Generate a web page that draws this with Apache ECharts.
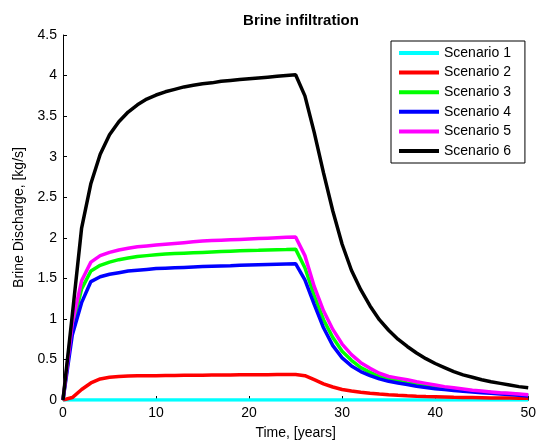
<!DOCTYPE html>
<html>
<head>
<meta charset="utf-8">
<script src="https://cdn.jsdelivr.net/npm/echarts@6/dist/echarts.min.js"></script>
<style>
  html, body { margin: 0; padding: 0; background: #fff; }
  #chart { width: 539px; height: 445px; }
</style>
</head>
<body>
<div id="chart"></div>
<script>
// Time in years, one sample per year
const years = [0,1,2,3,4,5,6,7,8,9,10,11,12,13,14,15,16,17,18,19,20,21,22,23,24,25,
               26,27,28,29,30,31,32,33,34,35,36,37,38,39,40,41,42,43,44,45,46,47,48,49,50];

const seriesNames = ['Scenario 1','Scenario 2','Scenario 3','Scenario 4','Scenario 5','Scenario 6'];
const seriesColors = ['#00ffff','#ff0000','#00ff00','#0000ff','#ff00ff','#000000'];

// Brine discharge [kg/s] per scenario
const scenario1 = [0,0,0,0,0,0,0,0,0,0,0,0,0,0,0,0,0,0,0,0,0,0,0,0,0,0,
                   0,0,0,0,0,0,0,0,0,0,0,0,0,0,0,0,0,0,0,0,0,0,0,0,0];
const scenario2 = [0,0.03,0.13,0.21,0.26,0.28,0.29,0.295,0.298,0.30,0.30,0.302,0.303,0.304,0.305,0.306,0.307,0.308,0.309,0.31,0.31,0.311,0.312,0.313,0.314,0.315,
                   0.30,0.25,0.20,0.16,0.13,0.11,0.095,0.083,0.073,0.065,0.058,0.052,0.047,0.043,0.04,0.037,0.034,0.032,0.03,0.028,0.026,0.025,0.024,0.023,0.022];
const scenario3 = [0,0.9,1.37,1.59,1.66,1.70,1.73,1.75,1.77,1.78,1.79,1.80,1.805,1.81,1.815,1.82,1.825,1.83,1.835,1.84,1.843,1.846,1.85,1.853,1.856,1.86,
                   1.63,1.29,0.99,0.77,0.60,0.49,0.40,0.34,0.29,0.26,0.235,0.21,0.19,0.175,0.16,0.145,0.132,0.12,0.11,0.10,0.091,0.083,0.076,0.069,0.06];
const scenario4 = [0,0.8,1.2,1.46,1.52,1.55,1.57,1.59,1.60,1.61,1.62,1.625,1.63,1.635,1.64,1.645,1.65,1.653,1.656,1.66,1.664,1.668,1.671,1.674,1.677,1.68,
                   1.48,1.18,0.89,0.67,0.52,0.42,0.35,0.30,0.26,0.23,0.21,0.19,0.17,0.155,0.14,0.128,0.117,0.107,0.098,0.09,0.082,0.075,0.068,0.06,0.05];
const scenario5 = [0,0.95,1.47,1.70,1.78,1.82,1.85,1.87,1.89,1.90,1.91,1.92,1.93,1.94,1.95,1.96,1.965,1.97,1.975,1.98,1.985,1.99,1.995,2.0,2.005,2.01,
                   1.78,1.40,1.10,0.87,0.69,0.56,0.46,0.39,0.33,0.29,0.27,0.25,0.225,0.205,0.185,0.165,0.15,0.135,0.12,0.11,0.10,0.09,0.082,0.074,0.065];
const scenario6 = [0,1.05,2.12,2.67,3.03,3.27,3.43,3.55,3.64,3.71,3.76,3.80,3.83,3.86,3.88,3.90,3.91,3.93,3.94,3.95,3.96,3.97,3.98,3.99,4.0,4.01,
                   3.75,3.30,2.80,2.33,1.92,1.60,1.36,1.16,0.99,0.86,0.75,0.66,0.58,0.51,0.45,0.40,0.35,0.31,0.28,0.25,0.225,0.205,0.185,0.165,0.15];

const allScenarios = [scenario1, scenario2, scenario3, scenario4, scenario5, scenario6];

const font = 'Liberation Sans, Arial, Helvetica, sans-serif';

const chart = echarts.init(document.getElementById('chart'), null, { renderer: 'canvas' });

chart.setOption({
  animation: false,
  backgroundColor: '#ffffff',
  title: {
    text: 'Brine infiltration',
    left: 296, top: 8, textAlign: 'center',
    textStyle: { fontFamily: font, fontSize: 15, fontWeight: 'bold', color: '#000' }
  },
  grid: { left: 63, right: 9, top: 35, bottom: 41, containLabel: false },
  legend: {
    orient: 'vertical',
    left: 391, top: 41,
    padding: [4, 14, 4, 8],
    itemWidth: 40, itemHeight: 4, itemGap: 3.6,
    icon: 'rect',
    backgroundColor: '#fff',
    borderColor: '#000', borderWidth: 1,
    textStyle: { fontFamily: font, fontSize: 14, color: '#000', lineHeight: 16 },
    data: seriesNames
  },
  xAxis: {
    type: 'value', min: 0, max: 50, interval: 10,
    name: 'Time, [years]', nameLocation: 'middle', nameGap: 26,
    nameTextStyle: { fontFamily: font, fontSize: 14, color: '#000' },
    axisLine: { show: true, lineStyle: { color: '#000', width: 1 } },
    axisTick: { show: true, inside: true, length: 4, lineStyle: { color: '#000' } },
    axisLabel: { fontFamily: font, fontSize: 14, color: '#000', margin: 6 },
    splitLine: { show: false }
  },
  yAxis: {
    type: 'value', min: 0, max: 4.5, interval: 0.5,
    name: 'Brine Discharge, [kg/s]', nameLocation: 'middle', nameGap: 31,
    nameTextStyle: { fontFamily: font, fontSize: 14, color: '#000' },
    axisLine: { show: true, lineStyle: { color: '#000', width: 1 } },
    axisTick: { show: true, inside: true, length: 4, lineStyle: { color: '#000' } },
    axisLabel: { fontFamily: font, fontSize: 14, color: '#000', margin: 6 },
    splitLine: { show: false }
  },
  series: seriesNames.map((name, i) => ({
    name: name,
    type: 'line',
    showSymbol: false,
    symbol: 'none',
    color: seriesColors[i],
    lineStyle: { width: 3.5, color: seriesColors[i] },
    data: years.map((t, k) => [t, allScenarios[i][k]])
  }))
});
</script>
</body>
</html>
